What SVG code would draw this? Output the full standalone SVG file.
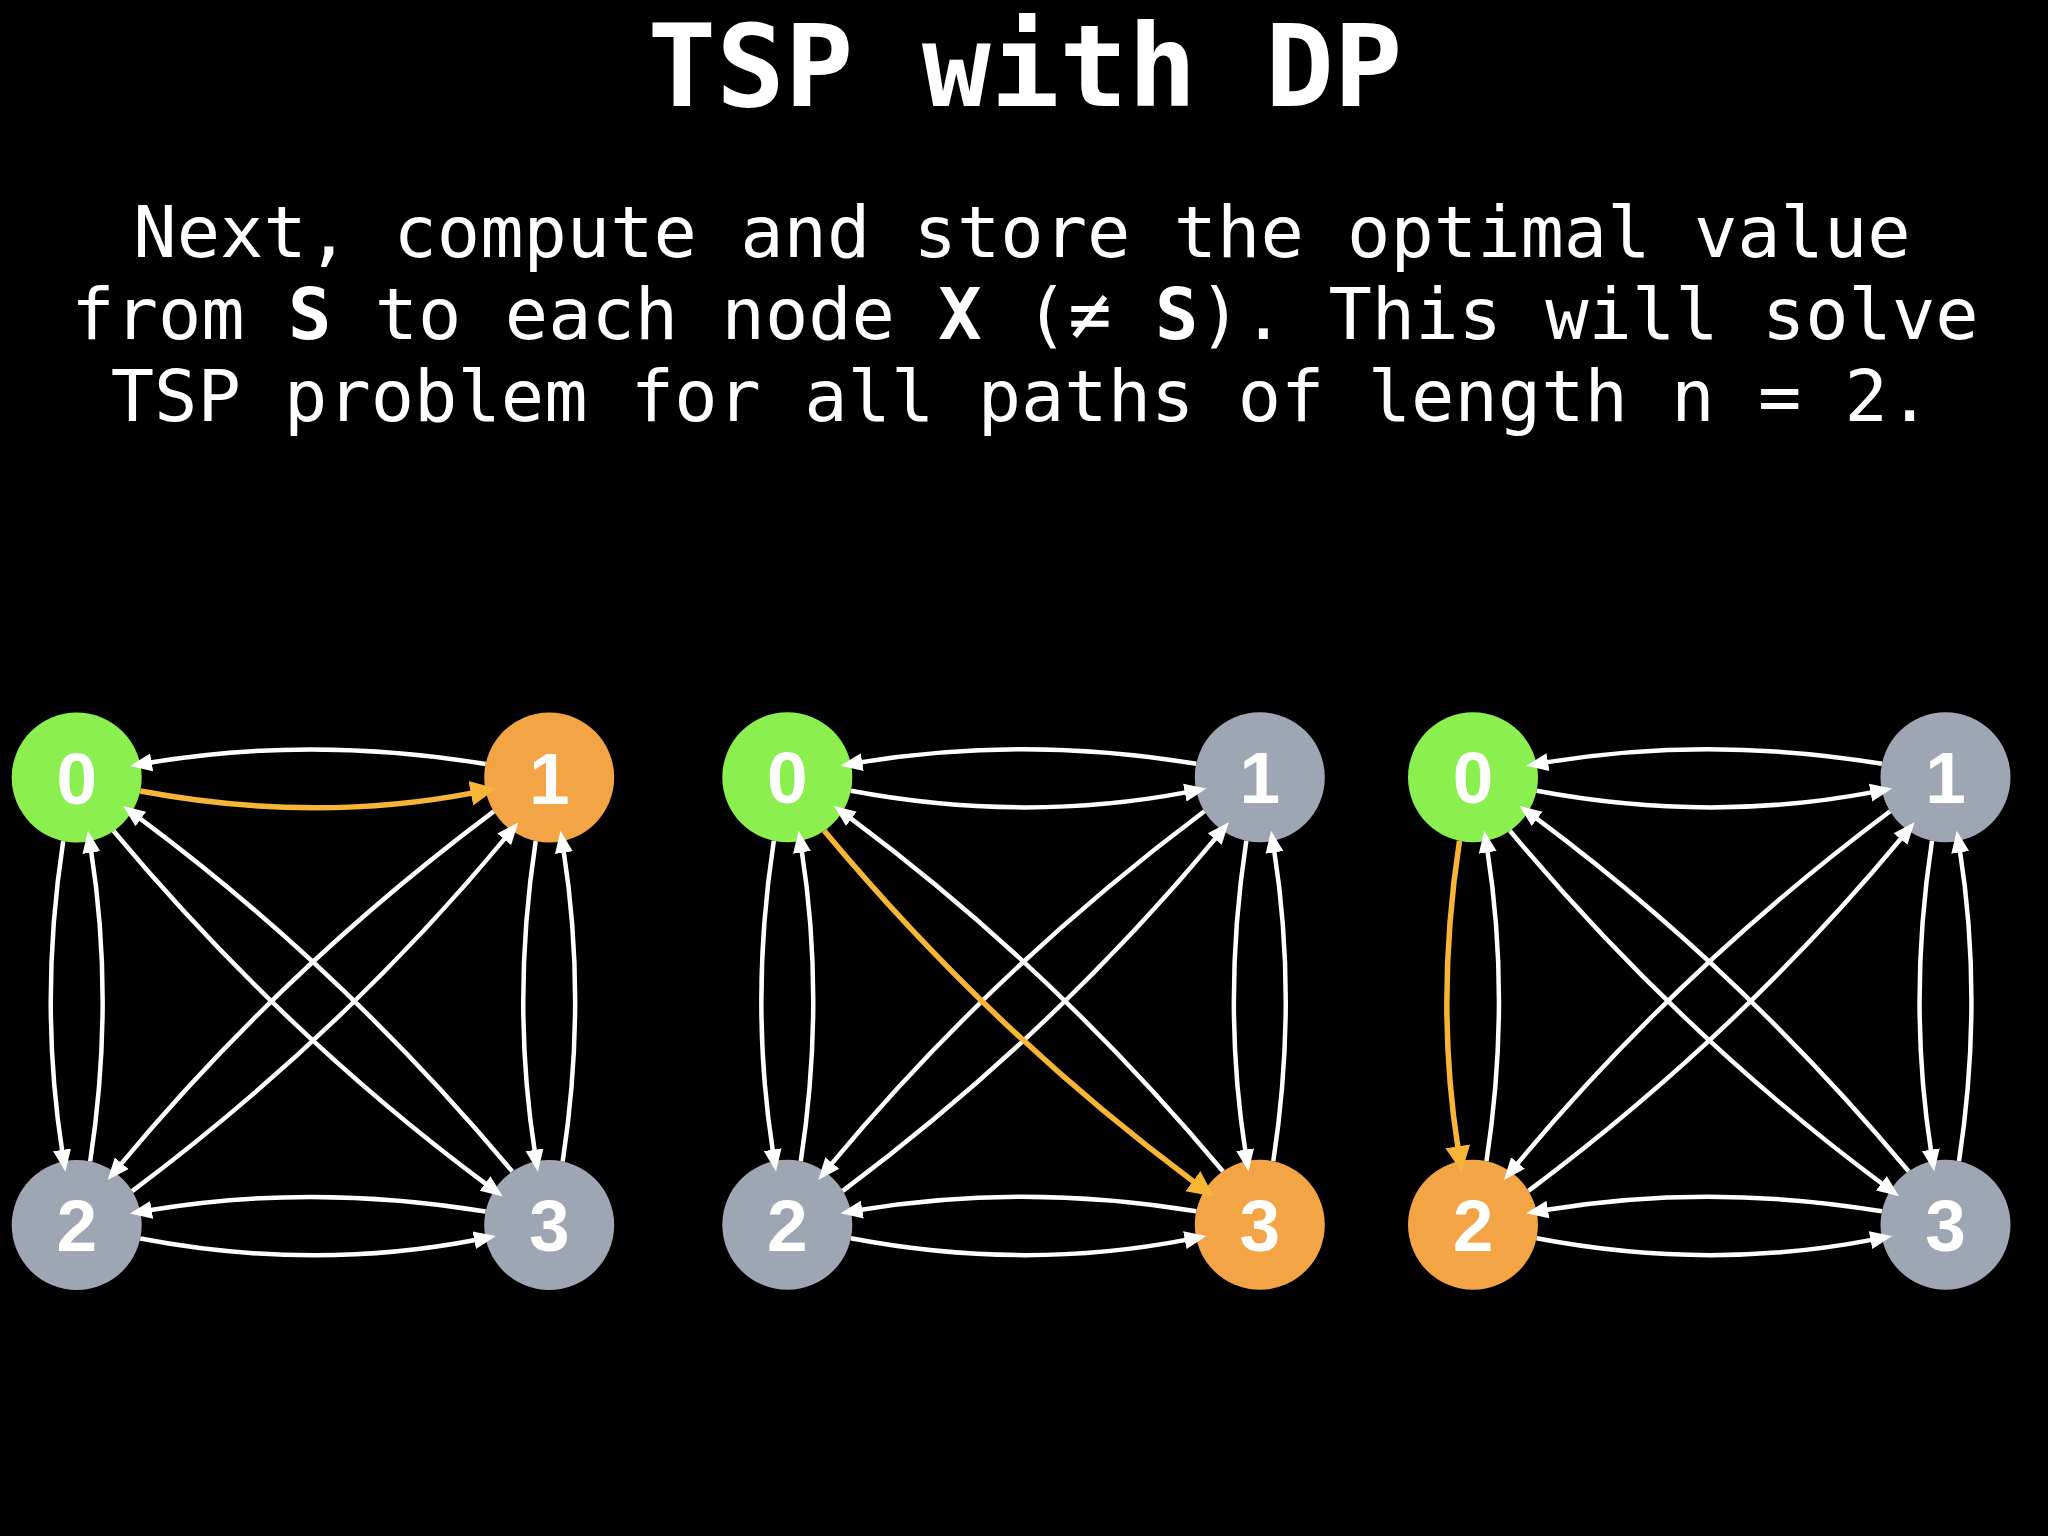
<svg xmlns="http://www.w3.org/2000/svg" width="2048" height="1536" viewBox="0 0 2048 1536">
<style>
.bg{fill:#000}
.title{font-family:"DejaVu Sans Mono","Liberation Mono",monospace;font-weight:bold;font-size:114px;fill:#fff;text-anchor:middle}
.body{font-family:"DejaVu Sans Mono","Liberation Mono",monospace;font-size:72px;fill:#fff;text-anchor:middle}
.b{font-weight:bold}
.lbl{font-family:"Liberation Sans",Arial,sans-serif;font-weight:bold;font-size:73px;fill:#fff;text-anchor:middle}
.green{fill:#8BEF4F}
.orange{fill:#F3A445}
.gray{fill:#9FA6B3}
.e{fill:none;stroke:#fff;stroke-width:4.5;marker-end:url(#ah)}
.eh{fill:none;stroke:#F7B537;stroke-width:5.5;marker-end:url(#aho)}
</style>
<defs>
<marker id="ah" markerUnits="userSpaceOnUse" markerWidth="24" markerHeight="20" viewBox="0 -10 24 20" refX="2.5" refY="0" orient="auto"><path d="M0,-9 L22,0 L0,9 Z" fill="#fff"/></marker>
<marker id="aho" markerUnits="userSpaceOnUse" markerWidth="28" markerHeight="28" viewBox="0 -14 28 28" refX="1" refY="0" orient="auto"><path d="M0,-12.5 L26,0 L0,12.5 Z" fill="#F7B537"/></marker>
</defs>
<rect class="bg" x="0" y="0" width="2048" height="1536"/>
<text class="title" x="1025" y="106">TSP with DP</text>
<text class="body" x="1022" y="257">Next, compute and store the optimal value</text>
<text class="body" x="1025" y="339">from <tspan class="b">S</tspan> to each node <tspan class="b">X</tspan> (≠ <tspan class="b">S</tspan>). This will solve</text>
<text class="body" x="1021" y="421">TSP problem for all paths of length n = 2.</text>

<g id="panel1" transform="translate(76.7,777.5)">
 <g id="p1-nodes">
  <g id="p1-node0"><circle class="green" cx="0" cy="0" r="65"/><text class="lbl" x="0" y="26">0</text></g>
  <g id="p1-node1"><circle class="orange" cx="472.5" cy="0" r="65"/><text class="lbl" x="472.5" y="26">1</text></g>
  <g id="p1-node2"><circle class="gray" cx="0" cy="447.5" r="65"/><text class="lbl" x="0" y="473.5">2</text></g>
  <g id="p1-node3"><circle class="gray" cx="472.5" cy="447.5" r="65"/><text class="lbl" x="472.5" y="473.5">3</text></g>
 </g>
 <g id="p1-connectors">
  <path class="e" d="M408.9,-13.5 Q236.3,-42 72.5,-14.8"/>
  <path class="e" d="M63.6,461 Q236.3,494 400,462.3"/>
  <path class="e" d="M408.9,434 Q236.3,405.5 72.5,432.7"/>
  <path class="e" d="M-13.5,63.6 Q-38,223.8 -14.3,374.9"/>
  <path class="e" d="M13.5,383.9 Q38,223.8 14.3,72.6"/>
  <path class="e" d="M459,63.6 Q434.5,223.8 458.2,374.9"/>
  <path class="e" d="M486,383.9 Q510.5,223.8 486.8,72.6"/>
  <path class="e" d="M36.9,53.5 Q206,255.7 410.4,407.4"/>
  <path class="e" d="M435.6,394 Q266.5,191.8 62.1,40.1"/>
  <path class="e" d="M417.1,33.9 Q206,191.8 43.4,387.6"/>
  <path class="e" d="M55.5,413.6 Q266.5,255.7 429.1,59.9"/>
  <path class="eh" d="M63.6,13.5 Q236.3,46 395.1,15.6"/>
 </g>
</g>

<g id="panel2" transform="translate(787.3,777.3)">
 <g id="p2-nodes">
  <g id="p2-node0"><circle class="green" cx="0" cy="0" r="65"/><text class="lbl" x="0" y="26">0</text></g>
  <g id="p2-node1"><circle class="gray" cx="472.5" cy="0" r="65"/><text class="lbl" x="472.5" y="26">1</text></g>
  <g id="p2-node2"><circle class="gray" cx="0" cy="447.5" r="65"/><text class="lbl" x="0" y="473.5">2</text></g>
  <g id="p2-node3"><circle class="orange" cx="472.5" cy="447.5" r="65"/><text class="lbl" x="472.5" y="473.5">3</text></g>
 </g>
 <g id="p2-connectors">
  <path class="e" d="M63.6,13.5 Q236.3,46 400,14.8"/>
  <path class="e" d="M408.9,-13.5 Q236.3,-42 72.5,-14.8"/>
  <path class="e" d="M63.6,461 Q236.3,494 400,462.3"/>
  <path class="e" d="M408.9,434 Q236.3,405.5 72.5,432.7"/>
  <path class="e" d="M-13.5,63.6 Q-38,223.8 -14.3,374.9"/>
  <path class="e" d="M13.5,383.9 Q38,223.8 14.3,72.6"/>
  <path class="e" d="M459,63.6 Q434.5,223.8 458.2,374.9"/>
  <path class="e" d="M486,383.9 Q510.5,223.8 486.8,72.6"/>
  <path class="e" d="M435.6,394 Q266.5,191.8 62.1,40.1"/>
  <path class="e" d="M417.1,33.9 Q206,191.8 43.4,387.6"/>
  <path class="e" d="M55.5,413.6 Q266.5,255.7 429.1,59.9"/>
  <path class="eh" d="M36.9,53.5 Q206,255.7 406.4,404.4"/>
 </g>
</g>

<g id="panel3" transform="translate(1473,777.3)">
 <g id="p3-nodes">
  <g id="p3-node0"><circle class="green" cx="0" cy="0" r="65"/><text class="lbl" x="0" y="26">0</text></g>
  <g id="p3-node1"><circle class="gray" cx="472.5" cy="0" r="65"/><text class="lbl" x="472.5" y="26">1</text></g>
  <g id="p3-node2"><circle class="orange" cx="0" cy="447.5" r="65"/><text class="lbl" x="0" y="473.5">2</text></g>
  <g id="p3-node3"><circle class="gray" cx="472.5" cy="447.5" r="65"/><text class="lbl" x="472.5" y="473.5">3</text></g>
 </g>
 <g id="p3-connectors">
  <path class="e" d="M63.6,13.5 Q236.3,46 400,14.8"/>
  <path class="e" d="M408.9,-13.5 Q236.3,-42 72.5,-14.8"/>
  <path class="e" d="M63.6,461 Q236.3,494 400,462.3"/>
  <path class="e" d="M408.9,434 Q236.3,405.5 72.5,432.7"/>
  <path class="e" d="M13.5,383.9 Q38,223.8 14.3,72.6"/>
  <path class="e" d="M459,63.6 Q434.5,223.8 458.2,374.9"/>
  <path class="e" d="M486,383.9 Q510.5,223.8 486.8,72.6"/>
  <path class="e" d="M36.9,53.5 Q206,255.7 410.4,407.4"/>
  <path class="e" d="M435.6,394 Q266.5,191.8 62.1,40.1"/>
  <path class="e" d="M417.1,33.9 Q206,191.8 43.4,387.6"/>
  <path class="e" d="M55.5,413.6 Q266.5,255.7 429.1,59.9"/>
  <path class="eh" d="M-13.5,63.6 Q-38,223.8 -15.1,370"/>
 </g>
</g>
</svg>
